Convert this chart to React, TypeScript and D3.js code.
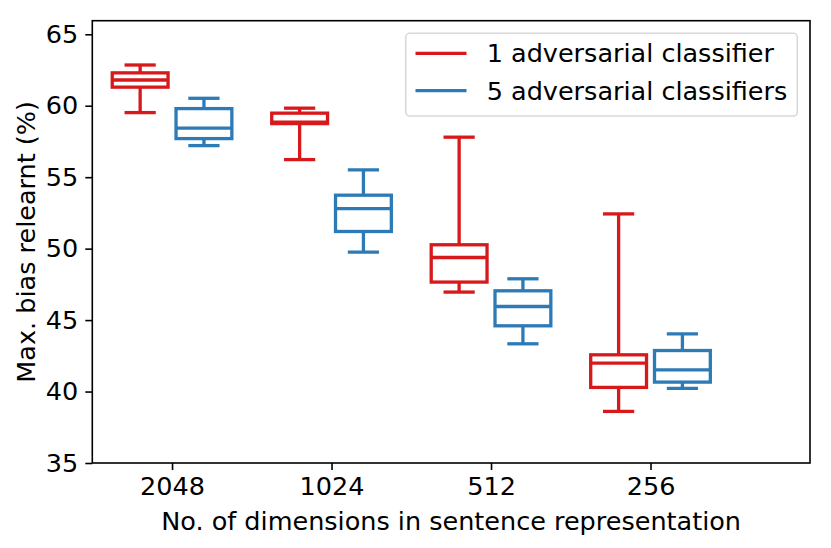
import React, { useRef, useEffect } from 'react';
import * as d3 from 'd3';

// Box statistics per category: [lower whisker, q1, median, q3, upper whisker]
const categories: string[] = ['2048', '1024', '512', '256'];

const oneAdversarial: number[][] = [
  [59.52, 61.3, 61.8, 62.3, 62.85],
  [56.23, 58.75, 58.85, 59.48, 59.83],
  [46.96, 47.66, 49.38, 50.27, 57.8],
  [38.61, 40.29, 41.99, 42.57, 52.43],
];

const fiveAdversarial: number[][] = [
  [57.21, 57.7, 58.43, 59.8, 60.52],
  [49.75, 51.2, 52.8, 53.74, 55.51],
  [43.34, 44.6, 45.95, 47.05, 47.89],
  [40.22, 40.66, 41.52, 42.87, 44.04],
];

const yTicks: number[] = [35, 40, 45, 50, 55, 60, 65];

const seriesNames = ['1 adversarial classifier', '5 adversarial classifiers'];
const colors = ['#d7191c', '#2c7bb6'];

const BoxChart: React.FC = () => {
  const svgRef = useRef<SVGSVGElement | null>(null);

  useEffect(() => {
    if (!svgRef.current) return;
    const svg = d3.select(svgRef.current);
    svg.selectAll('*').remove();

    const width = 831;
    const height = 548;
    const margin = { top: 20.7, right: 21, bottom: 85, left: 92.3 };
    const font = 'DejaVu Sans, sans-serif';
    const fontSize = 25.5;

    const x = d3.scaleLinear()
      .domain([0.5, 5.0])
      .range([margin.left, width - margin.right]);

    const y = d3.scaleLinear()
      .domain([35, 65.95])
      .range([height - margin.bottom, margin.top]);

    const boxWidth = 0.35;
    const offset = 0.2;
    const lw = 3.3;

    const drawSeries = (data: number[][], shift: number, color: string) => {
      const g = svg.append('g')
        .attr('stroke', color)
        .attr('stroke-width', lw)
        .attr('fill', 'none');
      data.forEach((d, i) => {
        const c = i + 1 + shift;
        const [lo, q1, med, q3, hi] = d;
        const x0 = x(c - boxWidth / 2);
        const x1 = x(c + boxWidth / 2);
        const cx0 = x(c - boxWidth / 4);
        const cx1 = x(c + boxWidth / 4);
        const xc = x(c);
        // whiskers
        g.append('line').attr('x1', xc).attr('x2', xc).attr('y1', y(q1)).attr('y2', y(lo));
        g.append('line').attr('x1', xc).attr('x2', xc).attr('y1', y(q3)).attr('y2', y(hi));
        // caps
        g.append('line').attr('x1', cx0).attr('x2', cx1).attr('y1', y(lo)).attr('y2', y(lo))
          .attr('stroke-linecap', 'square');
        g.append('line').attr('x1', cx0).attr('x2', cx1).attr('y1', y(hi)).attr('y2', y(hi))
          .attr('stroke-linecap', 'square');
        // box
        g.append('rect')
          .attr('x', x0)
          .attr('y', y(q3))
          .attr('width', x1 - x0)
          .attr('height', y(q1) - y(q3))
          .attr('stroke-linejoin', 'miter');
        // median
        g.append('line').attr('x1', x0).attr('x2', x1).attr('y1', y(med)).attr('y2', y(med));
      });
    };

    drawSeries(oneAdversarial, -offset, colors[0]);
    drawSeries(fiveAdversarial, offset, colors[1]);

    // frame
    svg.append('rect')
      .attr('x', margin.left)
      .attr('y', margin.top)
      .attr('width', width - margin.right - margin.left)
      .attr('height', height - margin.bottom - margin.top)
      .attr('fill', 'none')
      .attr('stroke', '#000')
      .attr('stroke-width', 1.6);

    // x axis
    const xAxis = svg.append('g')
      .attr('transform', `translate(0,${height - margin.bottom})`)
      .call(d3.axisBottom(x)
        .tickValues(categories.map((_, i) => i + 1))
        .tickFormat((_, i) => categories[i])
        .tickSize(7)
        .tickPadding(7));
    xAxis.select('.domain').remove();
    xAxis.selectAll('line').attr('stroke-width', 1.6);
    xAxis.selectAll('text')
      .attr('font-family', font)
      .attr('font-size', fontSize)
      .attr('fill', '#000');

    // y axis
    const yAxis = svg.append('g')
      .attr('transform', `translate(${margin.left},0)`)
      .call(d3.axisLeft(y).tickValues(yTicks).tickSize(7).tickPadding(7));
    yAxis.select('.domain').remove();
    yAxis.selectAll('line').attr('stroke-width', 1.6);
    yAxis.selectAll('text')
      .attr('font-family', font)
      .attr('font-size', fontSize)
      .attr('fill', '#000');

    // axis titles
    svg.append('text')
      .attr('x', (margin.left + width - margin.right) / 2)
      .attr('y', 530)
      .attr('text-anchor', 'middle')
      .attr('font-family', font)
      .attr('font-size', fontSize)
      .text('No. of dimensions in sentence representation');

    svg.append('text')
      .attr('transform', `translate(35,${(margin.top + height - margin.bottom) / 2}) rotate(-90)`)
      .attr('text-anchor', 'middle')
      .attr('font-family', font)
      .attr('font-size', fontSize)
      .text('Max. bias relearnt (%)');

    // legend
    const legend = svg.append('g');
    legend.append('rect')
      .attr('x', 405.7)
      .attr('y', 33.3)
      .attr('width', 391.6)
      .attr('height', 82.7)
      .attr('rx', 4)
      .attr('fill', '#fff')
      .attr('fill-opacity', 0.8)
      .attr('stroke', '#d9d9d9')
      .attr('stroke-width', 1.6);

    seriesNames.forEach((name, i) => {
      const ly = 53.3 + i * 37.4;
      legend.append('line')
        .attr('x1', 415.5)
        .attr('x2', 466.5)
        .attr('y1', ly)
        .attr('y2', ly)
        .attr('stroke', colors[i])
        .attr('stroke-width', lw);
      legend.append('text')
        .attr('x', 486.7)
        .attr('y', ly)
        .attr('dy', '0.35em')
        .attr('font-family', font)
        .attr('font-size', fontSize)
        .text(name);
    });
  }, []);

  return <svg ref={svgRef} width={831} height={548} style={{ display: 'block' }}></svg>;
};

function App() {
  return (
    <>
      <style>{'body{margin:0;}'}</style>
      <BoxChart />
    </>
  );
}

export default App;
